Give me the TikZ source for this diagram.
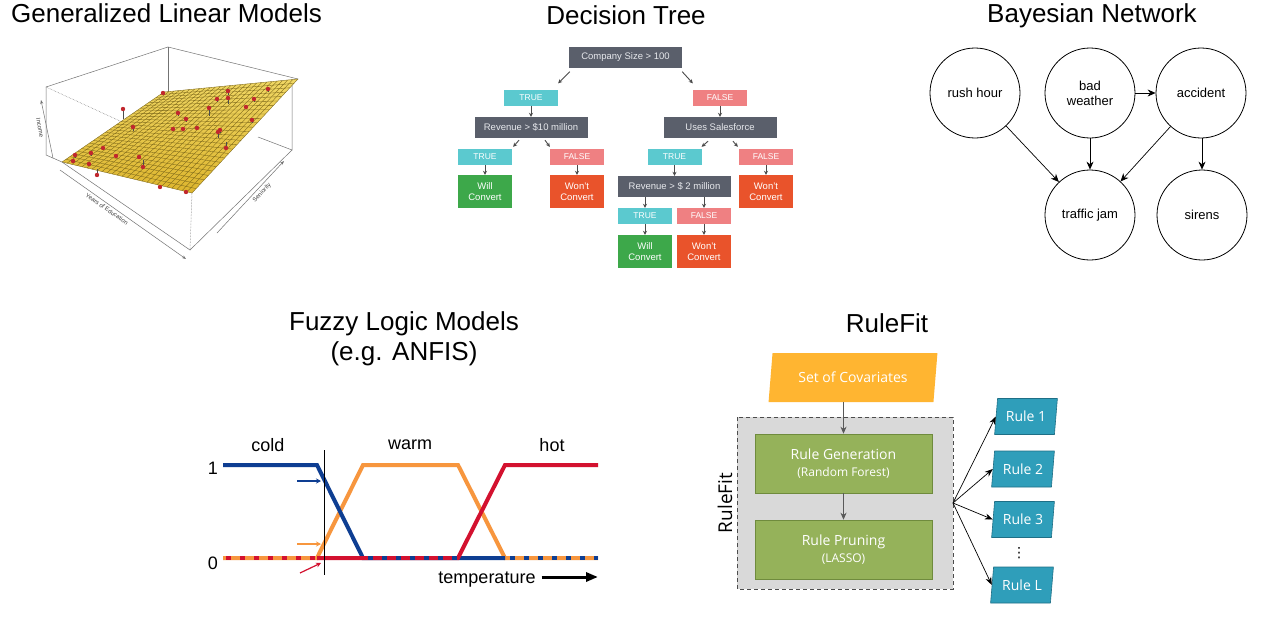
\documentclass[tikz,border=0pt]{standalone}
\usepackage{fontspec}
\setmainfont{Liberation Sans}
\newfontfamily\osans{Open Sans}
\newfontfamily\djv{DejaVu Sans}
\usetikzlibrary{arrows.meta,calc,shapes.geometric}
\newcommand\fsz[2]{\fontsize{#1}{#2}\selectfont}
\definecolor{cDark}{HTML}{5A5F6B}
\definecolor{cDtText}{HTML}{E6E8EC}
\definecolor{cTrue}{HTML}{5BC9CF}
\definecolor{cFalse}{HTML}{EF8082}
\definecolor{cGreen}{HTML}{3DA84A}
\definecolor{cRed}{HTML}{E9532B}
\definecolor{cDtArrow}{HTML}{4A4A4A}
\definecolor{glmYtop}{HTML}{F0D764}
\definecolor{glmYbot}{HTML}{DDB52E}
\definecolor{glmGrid}{HTML}{7A6518}
\definecolor{glmRed}{HTML}{C1272D}
\definecolor{fzBlue}{HTML}{0E3E92}
\definecolor{fzOrange}{HTML}{F7963E}
\definecolor{fzRed}{HTML}{D3112F}
\definecolor{rfYellow}{HTML}{FFB531}
\definecolor{rfGray}{HTML}{D9D9D9}
\definecolor{rfGreen}{HTML}{95B25A}
\definecolor{rfGreenB}{HTML}{6F8B3D}
\definecolor{rfTeal}{HTML}{2F9EBA}
\definecolor{rfTealB}{HTML}{1E6F86}
\begin{document}
\begin{tikzpicture}[x=1pt,y=-1pt,
  ttl/.style={font=\fsz{26}{30}, anchor=base, inner sep=0},
  dtbox/.style={rectangle, inner sep=0, minimum width=54, minimum height=16, text=white, font=\fsz{8.5}{10}},
  dtq/.style={dtbox, fill=cDark, minimum width=113, minimum height=21, text=cDtText, font=\fsz{9.5}{11}},
  dtt/.style={dtbox, fill=cTrue},
  dtf/.style={dtbox, fill=cFalse},
  dtwill/.style={dtbox, fill=cGreen, minimum height=33, align=center, font=\fsz{9.5}{11}},
  dtwont/.style={dtbox, fill=cRed, minimum height=33, align=center, font=\fsz{9.5}{11}},
  dtarr/.style={draw=cDtArrow, line width=0.9, -{Stealth[length=4,width=4]}},
  bn/.style={circle, draw, line width=0.8, minimum size=90, inner sep=0, align=center, font=\fsz{13}{15}},
  bnarr/.style={line width=0.7, -{Stealth[length=8,width=7]}},
  glmline/.style={draw=black!55, line width=0.5},
  glmlab/.style={font=\fsz{6}{7}, text=black!75, inner sep=0},
  fz/.style={line width=4},
  fzdash/.style={line width=4, dash pattern=on 5 off 9},
  fzlab/.style={font=\fsz{18}{20}, inner sep=0},
  rfpar/.style={shape=trapezium, trapezium stretches=true, inner sep=0, text=white, font=\osans\fsz{14}{16}},
  rfbox/.style={rectangle, fill=rfGreen, draw=rfGreenB, line width=0.6, minimum width=177, minimum height=59, inner sep=0, align=center, text=white, font=\osans\fsz{14}{18}},
  rfarr/.style={draw=black!65, line width=0.7, -{Stealth[length=7,width=6]}},
  rffan/.style={draw=black, line width=0.7, -{Stealth[length=8,width=6]}}
]
\useasboundingbox (0,0) rectangle (1267,629);
\fill[white] (0,0) rectangle (1267,629);

% ---------------- titles
\node[ttl] (tglm) at (166.5,22.5) {Generalized Linear Models};
\node[ttl] (tdt) at (626,24.5) {Decision Tree};
\node[ttl] (tbn) at (1092,22.5) {Bayesian Network};
\node[ttl] (tfz1) at (404,330.5) {Fuzzy Logic Models};
\node[ttl] (tfz2) at (404,360) {(e.g. ANFIS)};
\node[ttl] (trf) at (887,332.5) {RuleFit};

% ---------------- GLM
\coordinate (gA) at (62,162);
\coordinate (gB) at (164,92);
\coordinate (gC) at (298,79);
\coordinate (gD) at (192,193);
% back box lines
\draw[glmline] (46,87) -- (168,47) -- (298,79);
\draw[glmline] (46,87) -- (46,155) -- (62,162);
\draw[glmline] (168,47) -- (168,95);
\draw[glmline] (292,83) -- (292,150) -- (258,137);
\draw[glmline, densely dotted] (46,87) -- (133,127);
% surface
\shade[top color=glmYtop, bottom color=glmYbot] (gA) -- (gD) -- (gC) -- (gB) -- cycle;
\foreach \i in {0,...,26} {
  \pgfmathsetmacro\t{\i/26}
  \draw[glmGrid, line width=0.35] ($(gA)!\t!(gD)$) -- ($(gB)!\t!(gC)$);
  \draw[glmGrid, line width=0.35] ($(gA)!\t!(gB)$) -- ($(gD)!\t!(gC)$);
}
% data points
\foreach \px/\py/\ps in {123/109/10, 163/93/0, 228/91/4, 268/89/3, 217/99/3, 228/98/6, 254/99/3, 246/107/2, 209/108/8, 178/113/3, 186/119/3, 252/120/3, 133/127/4, 173/129/0, 183/129/0, 197/128/0, 220/130/3, 218/132/6, 226/148/-6, 103/148/2, 91/153/3, 75/155/3, 116/156/0, 139/157/2, 73/161/0, 89/164/2, 143/167/-7, 97/175/-6, 160/187/-2, 186/192/0} {
  \draw[black!70, line width=0.5] (\px,\py) -- ++(0,\ps);
  \fill[glmRed] (\px,\py) circle (2.2);
}
% front box lines
\draw[glmline] (62,162) -- (190,250) -- (292,150);
\draw[glmline, densely dotted] (192,193) -- (190,250);
% axes
\draw[glmline, -{Stealth[length=4,width=3]}] (53,158) -- (41,100);
\draw[glmline, -{Stealth[length=4,width=3]}] (60,170) -- (186,259);
\draw[glmline, -{Stealth[length=4,width=3]}] (217,233) -- (284,161);
\node[glmlab, rotate=-79.6] (lInc) at (40,128) {Income};
\node[glmlab, rotate=-35] (lEdu) at (107,209) {Years of Education};
\node[glmlab, rotate=47] (lSen) at (262,193) {Seniority};

% ---------------- Decision tree
\node[dtq] (root) at (625.5,57) {Company Size > 100};
\node[dtt] (t1) at (531,97.5) {TRUE};
\node[dtf] (f1) at (720,97.5) {FALSE};
\node[dtq] (rev10) at (531,127.5) {Revenue > \$10 million};
\node[dtq] (sales) at (720,127.5) {Uses Salesforce};
\node[dtt] (t2) at (485,157) {TRUE};
\node[dtf] (f2) at (577,157) {FALSE};
\node[dtwill] (will1) at (485,191.5) {Will\\Convert};
\node[dtwont] (wont1) at (577,191.5) {Won't\\Convert};
\node[dtt] (t3) at (674.5,157) {TRUE};
\node[dtf] (f3) at (766,157) {FALSE};
\node[dtwont] (wont2) at (766,191.5) {Won't\\Convert};
\node[dtq] (rev2) at (674.5,186.5) {Revenue > \$ 2 million};
\node[dtt] (t4) at (645,216) {TRUE};
\node[dtf] (f4) at (704,216) {FALSE};
\node[dtwill] (will2) at (645,251.5) {Will\\Convert};
\node[dtwont] (wont3) at (704,251.5) {Won't\\Convert};
\draw[dtarr] ([shift={(1,4)}]root.south west) -- ([shift={(0,-6)}]t1.north east);
\draw[dtarr] ([shift={(0,4)}]root.south east) -- ([shift={(0,-6)}]f1.north west);
\draw[dtarr] (t1) -- (rev10);
\draw[dtarr] (f1) -- (sales);
\draw[dtarr] ([shift={(-12,2)}]rev10.south) -- ([shift={(1,-2)}]t2.north east);
\draw[dtarr] ([shift={(14,2)}]rev10.south) -- ([shift={(0,-2)}]f2.north west);
\draw[dtarr] (t2) -- (will1);
\draw[dtarr] (f2) -- (wont1);
\draw[dtarr] ([shift={(-12,3)}]sales.south) -- ([shift={(0,-2)}]t3.north east);
\draw[dtarr] ([shift={(13,3)}]sales.south) -- ([shift={(-1,-2)}]f3.north west);
\draw[dtarr] (t3) -- (rev2);
\draw[dtarr] (f3) -- (wont2);
\draw[dtarr] (rev2.south -| t4.north) -- (t4.north);
\draw[dtarr] (rev2.south -| f4.north) -- (f4.north);
\draw[dtarr] (t4) -- (will2);
\draw[dtarr] (f4) -- (wont3);

% ---------------- Bayesian network
\node[bn] (rush) at (975,93) {rush hour};
\node[bn] (bad) at (1090,93) {bad\\weather};
\node[bn] (acc) at (1201,93) {accident};
\node[bn] (jam) at (1090,215) {traffic jam};
\node[bn] (sir) at (1202,215) {sirens};
\draw[bnarr] (bad) -- (acc);
\draw[bnarr] (bad) -- (jam);
\draw[bnarr] (rush) -- (jam);
\draw[bnarr] (acc) -- (jam);
\draw[bnarr] (acc.south -| sir.north) -- (sir.north);

% ---------------- Fuzzy logic
\draw[fz, fzOrange] (223,558) -- (317,558) -- (363,465) -- (458,465) -- (505,558) -- (598,558);
\draw[fz, fzBlue] (223,465) -- (317,465) -- (363,558) -- (505,558);
\draw[fz, fzRed] (317,558) -- (458,558) -- (505,465) -- (598,465);
\draw[fzdash, fzRed] (226,558) -- (317,558);
\draw[fzdash, fzBlue] (368,558) -- (458,558);
\draw[fzdash, fzBlue] (510,558) -- (598,558);
\draw[black, line width=1] (324,450) -- (324,575);
\draw[fzBlue, line width=1.2, -{Stealth[length=5,width=5]}] (297,481) -- (321,481);
\draw[fzOrange, line width=1.2, -{Stealth[length=5,width=5]}] (297,544) -- (321,544);
\draw[fzRed, line width=1.2, -{Stealth[length=5,width=5]}] (300,573) -- (321,563);
\node[fzlab] (lcold) at (268,445) {cold};
\node[fzlab] (lwarm) at (410,445) {warm};
\node[fzlab] (lhot) at (552,445) {hot};
\node[fzlab] (lone) at (213,468) {1};
\node[fzlab] (lzero) at (213,563) {0};
\node[fzlab] (ltemp) at (487,580) {temperature};
\coordinate (tempEnd) at (598,577);
\draw[line width=3, -{Triangle[length=12,width=9]}] ([xshift=6]ltemp.east |- tempEnd) -- (tempEnd);

% ---------------- RuleFit
\node[rfpar, fill=rfYellow, trapezium left angle=76, trapezium right angle=104, minimum width=169, minimum height=49] (cov) at (853,377.5) {Set of Covariates};
\draw[draw=black!70, fill=rfGray, line width=0.8, dash pattern=on 4 off 3] (737,417) rectangle (953,589);
\node[rfbox] (gen) at (843.5,463.5) {Rule Generation\\[-1pt]{\fsz{12}{14}(Random Forest)}};
\node[rfbox] (prune) at (843.5,549.5) {Rule Pruning\\[-1pt]{\fsz{12}{14}(LASSO)}};
\node[rotate=90, font=\osans\fsz{19}{21}, inner sep=0] (lrf) at (725,503) {RuleFit};
\draw[rfarr] (gen.north |- cov.south) -- (gen.north);
\draw[rfarr] (gen) -- (prune);
\tikzset{rule/.style={rfpar, fill=rfTeal, draw=rfTealB, line width=0.6, trapezium left angle=79, trapezium right angle=101, minimum width=63, minimum height=36}}
\node[rule] (r1) at (1026,416.5) {Rule 1};
\node[rule] (r2) at (1023,469) {Rule 2};
\node[rule] (r3) at (1023,519.5) {Rule 3};
\node[rule] (rL) at (1022,585) {Rule L};
\node[font=\djv\fsz{14}{16}, inner sep=0] (vdots) at (1019,553) {⋮};
\coordinate (fan) at (953,503);
\draw[rffan] (fan) -- (r1.left side);
\draw[rffan] (fan) -- (r2.left side);
\draw[rffan] (fan) -- (r3.left side);
\draw[rffan] (fan) -- (rL.left side);
\end{tikzpicture}
\end{document}
